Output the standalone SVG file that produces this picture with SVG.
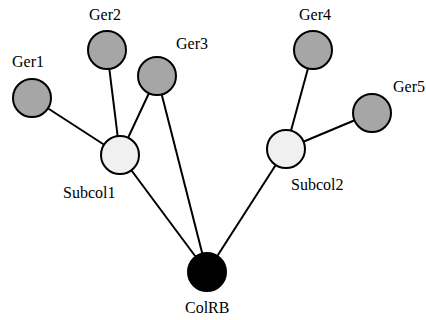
<svg xmlns="http://www.w3.org/2000/svg" width="426" height="320" viewBox="0 0 426 320">
<style>
.e{stroke:#000;stroke-width:2;fill:none}
.n{stroke:#000;stroke-width:2}
.g{fill:#a6a6a6}
.s{fill:#f0f0f0}
.r{fill:#000}
.t{font-family:'Liberation Serif','DejaVu Serif',serif;font-size:16px;fill:#000}
</style>
<rect width="426" height="320" fill="#fff"/>
<g id="edges">
<line class="e" x1="32" y1="98" x2="120" y2="155"/>
<line class="e" x1="107" y1="50" x2="120" y2="155"/>
<line class="e" x1="157" y1="76" x2="120" y2="155"/>
<line class="e" x1="157" y1="76" x2="207" y2="272"/>
<line class="e" x1="120" y1="155" x2="207" y2="272"/>
<line class="e" x1="313" y1="50" x2="286" y2="149"/>
<line class="e" x1="372" y1="113" x2="286" y2="149"/>
<line class="e" x1="286" y1="149" x2="207" y2="272"/>
</g>
<g id="Ger1"><circle class="n g" cx="32" cy="98" r="19"/><text class="t" font-family="Liberation Serif, serif" x="12" y="67">Ger1</text></g>
<g id="Ger2"><circle class="n g" cx="107" cy="50" r="19"/><text class="t" font-family="Liberation Serif, serif" x="89" y="20">Ger2</text></g>
<g id="Ger3"><circle class="n g" cx="157" cy="76" r="19"/><text class="t" font-family="Liberation Serif, serif" x="176" y="49">Ger3</text></g>
<g id="Ger4"><circle class="n g" cx="313" cy="50" r="19"/><text class="t" font-family="Liberation Serif, serif" x="299" y="20">Ger4</text></g>
<g id="Ger5"><circle class="n g" cx="372" cy="113" r="19"/><text class="t" font-family="Liberation Serif, serif" x="393" y="92">Ger5</text></g>
<g id="Subcol1"><circle class="n s" cx="120" cy="155" r="19"/><text class="t" font-family="Liberation Serif, serif" x="63" y="198">Subcol1</text></g>
<g id="Subcol2"><circle class="n s" cx="286" cy="149" r="19"/><text class="t" font-family="Liberation Serif, serif" x="291" y="190">Subcol2</text></g>
<g id="ColRB"><circle class="n r" cx="207" cy="272" r="19"/><text class="t" font-family="Liberation Serif, serif" x="185" y="313">ColRB</text></g>
</svg>
